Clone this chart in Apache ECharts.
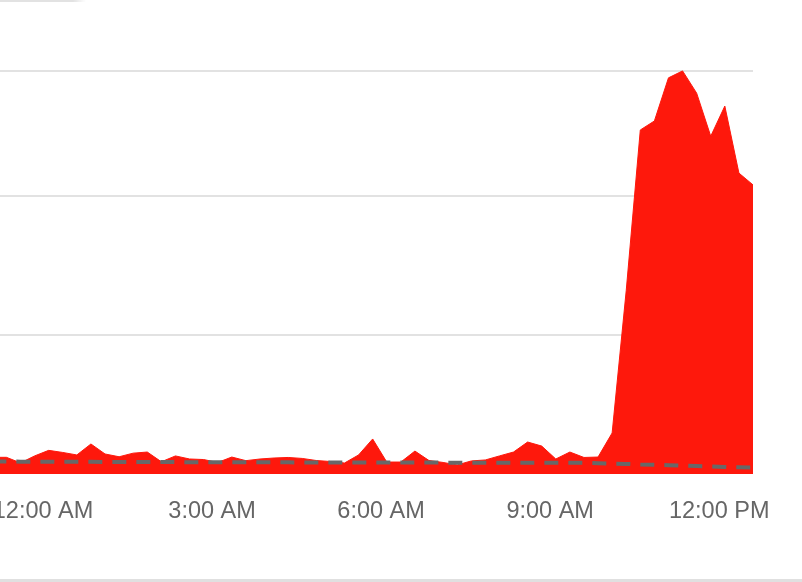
<!DOCTYPE html>
<html>
<head>
<meta charset="utf-8">
<script src="https://cdn.jsdelivr.net/npm/echarts@6/dist/echarts.min.js"></script>
<style>
html,body{margin:0;padding:0;background:#fff;}
#wrap{position:relative;width:802px;height:582px;overflow:hidden;}
#chart{position:absolute;left:0;top:0;width:802px;height:582px;}
#bot{position:absolute;left:0;top:579px;width:802px;height:3px;background:#e0e0e0;}
#topbit{position:absolute;left:0;top:0;width:86px;height:2px;background:linear-gradient(to right,#e2e2e2 85%,rgba(226,226,226,0));}
</style>
</head>
<body>
<div id="wrap"><div id="chart"></div><div id="topbit"></div><div id="bot"></div></div>
<script>
// Time of each sample, in hours from midnight (negative = previous evening)
const hours = [-0.9, -0.65, -0.4, -0.15, 0.1, 0.35, 0.6, 0.85, 1.1, 1.35, 1.6, 1.85, 2.1, 2.35, 2.6, 2.85,
  3.1, 3.35, 3.6, 3.85, 4.1, 4.35, 4.6, 4.85, 5.1, 5.35, 5.6, 5.85, 6.1, 6.35, 6.6, 6.85,
  7.1, 7.35, 7.6, 7.85, 8.1, 8.35, 8.6, 8.85, 9.1, 9.35, 9.6, 9.85, 10.1, 10.35, 10.6, 10.85,
  11.1, 11.35, 11.6, 11.85, 12.1, 12.35, 12.6];
// Red area series
const actual = [12, 12, 8, 13, 17, 15.5, 13.7, 21.6, 14.4, 12.4, 15, 15.8, 8.8, 13, 10.8, 10.4,
  8.3, 12.2, 9.6, 10.8, 11.5, 11.9, 11.2, 9.7, 9, 7.9, 13.7, 25.2, 8.6, 8.6, 16.5, 9.7,
  8.3, 6.5, 9.4, 10.1, 13, 15.8, 23, 20.1, 10.8, 15.8, 11.9, 12.2, 29.5, 132, 247.5, 254,
  285, 290, 274, 243, 264.7, 216.5, 208];
// Grey dashed baseline series
const baseline = [9.0, 9.0, 8.9, 8.9, 8.9, 8.8, 8.8, 8.8, 8.7, 8.7, 8.7, 8.6, 8.6, 8.6, 8.5, 8.5,
  8.5, 8.5, 8.4, 8.4, 8.4, 8.4, 8.3, 8.3, 8.3, 8.3, 8.3, 8.2, 8.2, 8.2, 8.2, 8.2,
  8.2, 8.1, 8.1, 8.1, 8.1, 8.1, 8.1, 8.1, 8.1, 8.1, 8.0, 7.8, 7.5, 7.2, 6.9, 6.6,
  6.3, 6.0, 5.7, 5.4, 5.1, 4.9, 4.7];
// Horizontal gridline values
const gridValues = [100, 200, 290];
// Tick labels
const tickHours = [-3, 0, 3, 6, 9, 12];
const tickLabels = ['9:00 PM', '12:00 AM', '3:00 AM', '6:00 AM', '9:00 AM', '12:00 PM'];

const chart = echarts.init(document.getElementById('chart'), null, {renderer: 'canvas'});
chart.setOption({
  animation: false,
  backgroundColor: '#fff',
  grid: {left: -126, right: 49, top: 57, bottom: 108, containLabel: false, outerBoundsMode: 'none'},
  xAxis: {
    type: 'value', min: -3, max: 12.6, interval: 3,
    axisLine: {show: false}, axisTick: {show: false}, splitLine: {show: false},
    axisLabel: {
      show: true, margin: 26, color: '#666666', fontSize: 23.5,
      fontFamily: 'Liberation Sans, Arial, sans-serif',
      showMaxLabel: false, hideOverlap: false,
      formatter: function (v) {
        const i = tickHours.indexOf(Math.round(v * 100) / 100);
        return i >= 0 ? tickLabels[i] : '';
      }
    }
  },
  yAxis: {type: 'value', min: 0, max: 300, show: false, splitLine: {show: false}},
  series: [
    {
      type: 'line', data: [], z: 1, silent: true,
      markLine: {
        silent: true, symbol: 'none', label: {show: false}, z: 1,
        lineStyle: {color: '#e2e2e2', width: 2, type: 'solid'},
        data: gridValues.map(v => ({yAxis: v}))
      }
    },
    {
      type: 'line', z: 2, symbol: 'none', silent: true,
      data: hours.map((h, i) => [h, actual[i]]),
      lineStyle: {color: '#fe180c', width: 1},
      areaStyle: {color: '#fe180c', opacity: 1, origin: 'start'}
    },
    {
      type: 'line', z: 3, symbol: 'none', silent: true,
      data: hours.map((h, i) => [h, baseline[i]]),
      lineStyle: {color: '#686868', width: 4, type: [14, 10]}
    }
  ]
});
</script>
</body>
</html>
